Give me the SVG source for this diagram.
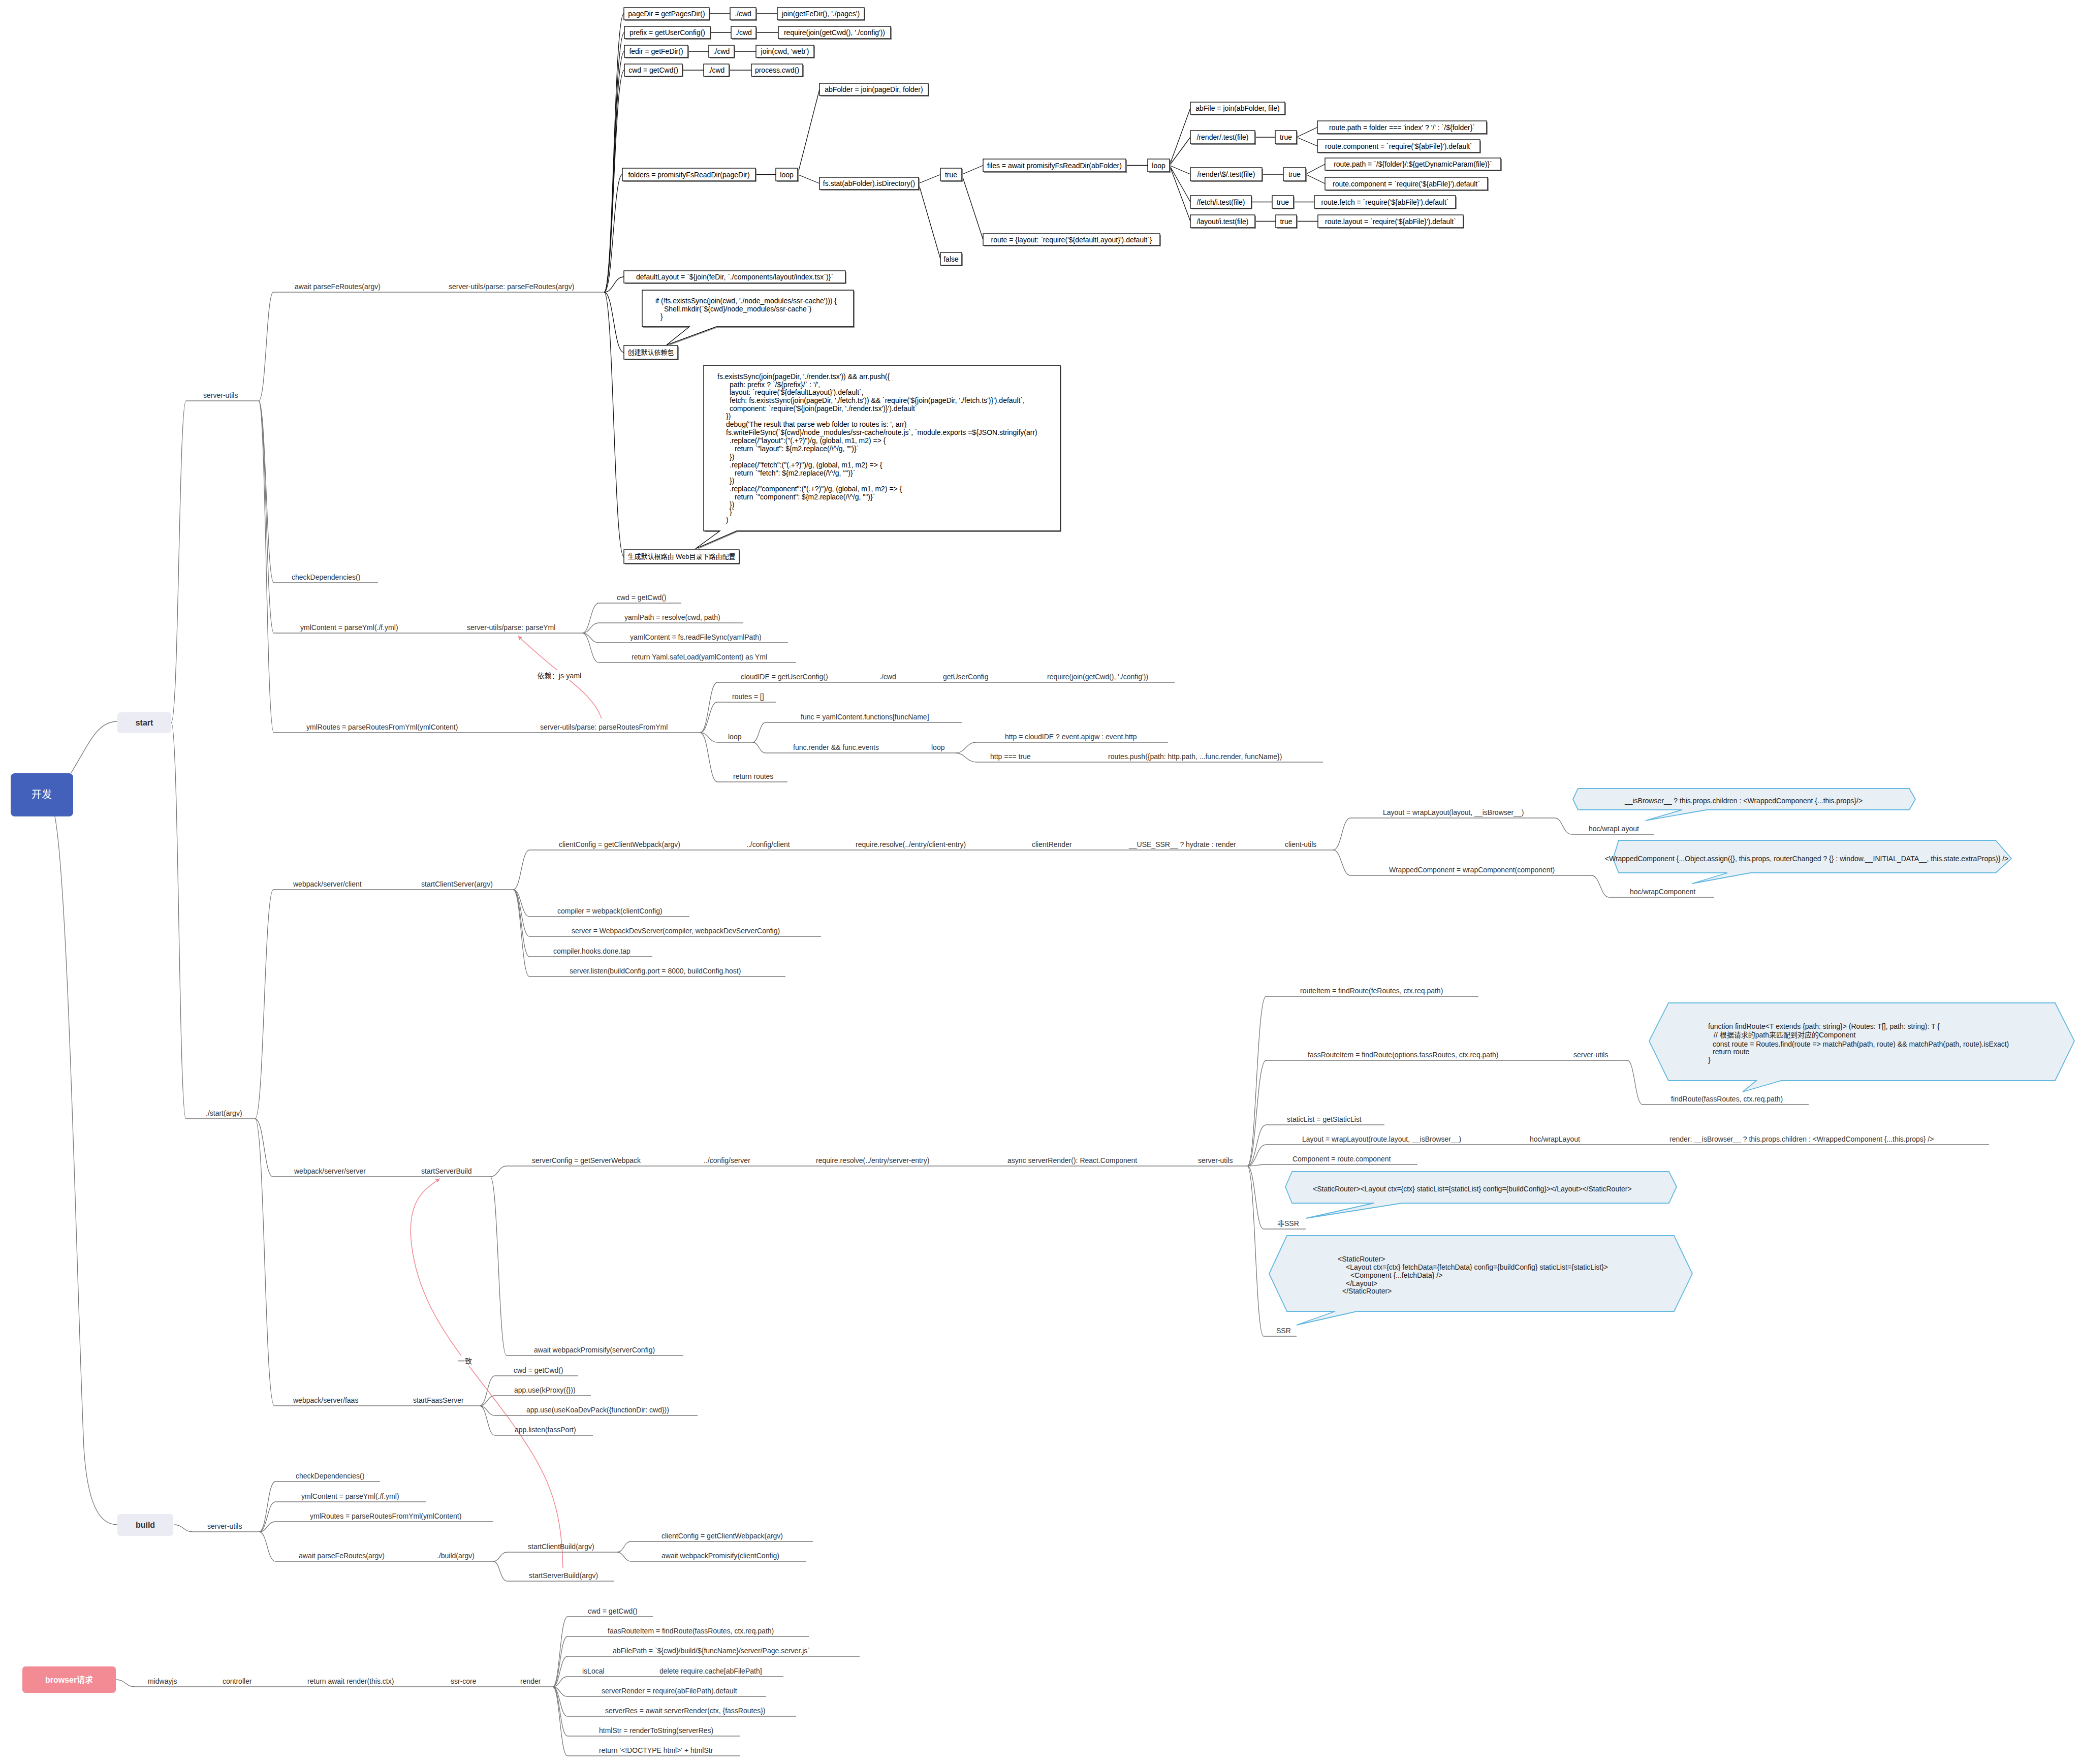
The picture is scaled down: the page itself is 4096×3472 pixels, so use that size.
<svg xmlns="http://www.w3.org/2000/svg" width="4096" height="3472" viewBox="0 0 4096 3472">
<defs>
<style>
.t{font-family:"Liberation Sans",Arial,"Noto Sans CJK SC",sans-serif;font-size:14px;fill:#333}
.bt{font-family:"Liberation Sans",Arial,"Noto Sans CJK SC",sans-serif;font-size:14px;fill:#000;text-anchor:middle}
.cjk{font-size:13px}
.u{stroke:#777;stroke-width:1.6;fill:none}
.c{stroke:#777;stroke-width:1.3;fill:none}
.cb{stroke:#111;stroke-width:1.3;fill:none}
.box{fill:#fff;stroke:#000;stroke-width:1.3}
.shd{fill:#8a8a8a}
.co{fill:#fff;stroke:#000;stroke-width:1.3}
.bl{fill:#E8EFF5;stroke:#62B8E0;stroke-width:1.8}
.red{stroke:#F2858F;stroke-width:1.5;fill:none}
.rl{font-family:"Liberation Sans",Arial,"Noto Sans CJK SC",sans-serif;font-size:14px;fill:#222}
</style>
<marker id="arr" viewBox="0 0 10 10" refX="9" refY="5" markerWidth="8" markerHeight="8" orient="auto" markerUnits="userSpaceOnUse">
<path d="M0,0 L10,5 L0,10 z" fill="#F2858F"/>
</marker>
</defs>
<rect x="0" y="0" width="4096" height="3472" fill="#fff"/>

<g id="connectors">
<!-- root -->
<path class="c" d="M140,1521 C175,1465 190,1420 231,1420"/>
<path class="c" d="M108,1607 C135,1750 150,2500 165,2850 C172,2960 195,3001 231,3001"/>
<path class="c" d="M337,1422 C352,1422 352,789 366,789"/>
<path class="c" d="M337,1422 C352,1422 352,2202 366,2202"/>
<!-- server-utils -->
<path class="c" d="M509,789 C524,789 524,575 538,575"/>
<path class="c" d="M509,789 C524,789 524,1147 539,1147"/>
<path class="c" d="M509,789 C524,789 524,1246 539,1246"/>
<path class="c" d="M509,789 C524,789 524,1442 539,1442"/>
<!-- parseFeRoutes trunk -->
<path class="cb" d="M1189,575 C1208,575 1208,27 1228,27"/>
<path class="cb" d="M1189,575 C1208,575 1208,64 1229,64"/>
<path class="cb" d="M1189,575 C1208,575 1208,101 1229,101"/>
<path class="cb" d="M1189,575 C1208,575 1208,138 1229,138"/>
<path class="cb" d="M1189,575 C1207,575 1207,343.5 1225,343.5"/>
<path class="cb" d="M1189,575 C1208,575 1208,545 1228,545"/>
<path class="cb" d="M1189,575 C1208,575 1208,693.5 1228,693.5"/>
<path class="cb" d="M1189,575 C1208,575 1208,1095.5 1228,1095.5"/>
<!-- box rows -->
<path class="cb" d="M1396,27 H1437 M1488,27 H1530 M1398,64 H1439 M1488,64 H1532 M1354,101 H1395 M1445,101 H1488 M1343,138 H1385 M1435,138 H1479"/>
<path class="cb" d="M1487,343.5 H1527 M1570,343.5 L1613,176 M1570,343.5 L1613,361 M1808,361 L1851,343.5 M1808,361 L1851,509.5 M1893,343.5 L1935,325.5 M1893,343.5 L1935,471.5 M2216,325.5 H2259"/>
<path class="cb" d="M2302,325.5 L2343,213 M2302,325.5 L2343,270 M2302,325.5 L2343,343 M2302,325.5 L2343,397.5 M2302,325.5 L2343,435.5"/>
<path class="cb" d="M2470,270 H2510 M2552,270 L2593,250.5 M2552,270 L2593,287.5 M2484,343 H2526 M2570,343 L2608,323 M2570,343 L2608,361.5 M2463,397.5 H2504 M2546,397.5 H2587 M2470,435.5 H2511 M2552,435.5 H2594"/>
<!-- parseYml -->
<path class="c" d="M1146,1246 C1162,1246 1162,1187 1179,1187"/>
<path class="c" d="M1146,1246 C1162,1246 1162,1226 1179,1226"/>
<path class="c" d="M1146,1246 C1162,1246 1162,1265 1179,1265"/>
<path class="c" d="M1146,1246 C1162,1246 1162,1304 1179,1304"/>
<!-- parseRoutesFromYml -->
<path class="c" d="M1378,1442 C1395,1442 1395,1343 1412,1343"/>
<path class="c" d="M1378,1442 C1395,1442 1395,1382 1412,1382"/>
<path class="c" d="M1378,1442 C1395,1442 1395,1461 1412,1461"/>
<path class="c" d="M1378,1442 C1395,1442 1395,1539 1412,1539"/>
<path class="c" d="M1481,1461 C1494,1461 1494,1422 1507,1422"/>
<path class="c" d="M1481,1461 C1494,1461 1494,1482 1507,1482"/>
<path class="c" d="M1880,1482 C1901,1482 1901,1461 1922,1461"/>
<path class="c" d="M1880,1482 C1901,1482 1901,1500 1922,1500"/>
<!-- ./start -->
<path class="c" d="M502,2202 C520,2202 520,1751 538,1751"/>
<path class="c" d="M502,2202 C520,2202 520,2316 537,2316"/>
<path class="c" d="M502,2202 C521,2202 521,2767 540,2767"/>
<!-- startClientServer -->
<path class="c" d="M1010,1751 C1026,1751 1026,1673 1042,1673"/>
<path class="c" d="M1010,1751 C1026,1751 1026,1804 1042,1804"/>
<path class="c" d="M1010,1751 C1026,1751 1026,1843 1042,1843"/>
<path class="c" d="M1010,1751 C1026,1751 1026,1883 1042,1883"/>
<path class="c" d="M1010,1751 C1026,1751 1026,1922 1042,1922"/>
<!-- client-utils -->
<path class="c" d="M2624,1673 C2641,1673 2641,1610 2658,1610"/>
<path class="c" d="M2624,1673 C2641,1673 2641,1723 2658,1723"/>
<path class="c" d="M3060,1610 C3076,1610 3076,1642 3093,1642"/>
<path class="c" d="M3132,1723 C3150,1723 3150,1766 3167,1766"/>
<!-- startServerBuild -->
<path class="c" d="M965,2316 C981,2316 981,2295 997,2295"/>
<path class="c" d="M965,2316 C981,2316 981,2668 997,2668"/>
<!-- server-utils (render) -->
<path class="c" d="M2455,2295 C2473,2295 2473,1961 2492,1961"/>
<path class="c" d="M2455,2295 C2473,2295 2473,2087 2492,2087"/>
<path class="c" d="M2455,2295 C2473,2295 2473,2214 2492,2214"/>
<path class="c" d="M2455,2295 C2473,2295 2473,2253 2492,2253"/>
<path class="c" d="M2455,2295 C2473,2295 2473,2292 2492,2292"/>
<path class="c" d="M2455,2295 C2471,2295 2471,2419 2487,2419"/>
<path class="c" d="M2455,2295 C2471,2295 2471,2630 2487,2630"/>
<path class="c" d="M3203,2087 C3218,2087 3218,2174 3233,2174"/>
<!-- startFaasServer -->
<path class="c" d="M944,2767 C959,2767 959,2708 974,2708"/>
<path class="c" d="M944,2767 C959,2767 959,2747 974,2747"/>
<path class="c" d="M944,2767 C959,2767 959,2786 974,2786"/>
<path class="c" d="M944,2767 C959,2767 959,2825 974,2825"/>
<!-- build -->
<path class="c" d="M342,3001 C361,3001 361,3015 380,3015"/>
<path class="c" d="M510,3015 C526,3015 526,2916 542,2916"/>
<path class="c" d="M510,3015 C526,3015 526,2956 542,2956"/>
<path class="c" d="M510,3015 C526,3015 526,2995 542,2995"/>
<path class="c" d="M510,3015 C526,3015 526,3073 542,3073"/>
<path class="c" d="M971,3073 C984,3073 984,3055 998,3055"/>
<path class="c" d="M971,3073 C984,3073 984,3112 998,3112"/>
<path class="c" d="M1215,3055 C1228,3055 1228,3034 1242,3034"/>
<path class="c" d="M1215,3055 C1228,3055 1228,3073 1242,3073"/>
<!-- browser -->
<path class="c" d="M228,3306 C247,3306 247,3320 266,3320"/>
<path class="c" d="M1088,3320 C1102,3320 1102,3182 1117,3182"/>
<path class="c" d="M1088,3320 C1102,3320 1102,3221 1117,3221"/>
<path class="c" d="M1088,3320 C1102,3320 1102,3260 1117,3260"/>
<path class="c" d="M1088,3320 C1102,3320 1102,3300 1117,3300"/>
<path class="c" d="M1088,3320 C1102,3320 1102,3339 1117,3339"/>
<path class="c" d="M1088,3320 C1102,3320 1102,3378 1117,3378"/>
<path class="c" d="M1088,3320 C1102,3320 1102,3417 1117,3417"/>
<path class="c" d="M1088,3320 C1102,3320 1102,3456 1117,3456"/>
<!-- relation arrows -->
<path class="red" d="M1184,1414 C1165,1360 1100,1330 1020,1252" marker-end="url(#arr)"/>
<path class="red" d="M1108,3086 C1105,2960 1080,2900 1000,2790 S840,2600 815,2480 S840,2340 865,2320" marker-end="url(#arr)"/>
</g>

<!-- root nodes -->
<g id="n-kaifa"><rect x="21" y="1522" width="123" height="85" rx="8" fill="#4361BB"/><text x="82" y="1571" text-anchor="middle" style="font-family:'Noto Sans CJK SC','Liberation Sans',sans-serif;font-size:20px;fill:#fff">开发</text></g>
<g id="n-start"><rect x="231" y="1402" width="106" height="41" rx="6" fill="#EBEBF3"/><text x="284" y="1428" text-anchor="middle" style="font-family:'Liberation Sans',Arial,sans-serif;font-size:16px;font-weight:bold;fill:#333">start</text></g>
<g id="n-build"><rect x="231" y="2980" width="110" height="43" rx="6" fill="#EBEBF3"/><text x="286" y="3007" text-anchor="middle" style="font-family:'Liberation Sans',Arial,sans-serif;font-size:16px;font-weight:bold;fill:#333">build</text></g>
<g id="n-browser"><rect x="44" y="3280" width="184" height="52" rx="6" fill="#F28B94"/><text x="136" y="3312" text-anchor="middle" style="font-family:'Liberation Sans',Arial,'Noto Sans CJK SC',sans-serif;font-size:16px;font-weight:bold;fill:#fff">browser请求</text></g>

<!-- start > server-utils -->
<g id="n-su"><path class="u" d="M366,789 H509"/><text class="t" x="400" y="783">server-utils</text></g>
<g id="n-pfr"><path class="u" d="M538,575 H1189"/><text class="t" x="580" y="569">await parseFeRoutes(argv)</text><text class="t" x="883" y="569">server-utils/parse: parseFeRoutes(argv)</text></g>

<!-- boxed tree -->
<g id="n-b1"><rect class="shd" x="1230" y="17" width="168" height="24"/><rect class="box" x="1228" y="15" width="168" height="24"/><text class="bt" x="1312" y="32">pageDir = getPagesDir()</text></g>
<g id="n-b2"><rect class="shd" x="1439" y="17" width="51" height="24"/><rect class="box" x="1437" y="15" width="51" height="24"/><text class="bt" x="1462.5" y="32">./cwd</text></g>
<g id="n-b3"><rect class="shd" x="1532" y="17" width="171" height="24"/><rect class="box" x="1530" y="15" width="171" height="24"/><text class="bt" x="1615.5" y="32">join(getFeDir(), './pages')</text></g>
<g id="n-b4"><rect class="shd" x="1231" y="54" width="169" height="24"/><rect class="box" x="1229" y="52" width="169" height="24"/><text class="bt" x="1313.5" y="69">prefix = getUserConfig()</text></g>
<g id="n-b5"><rect class="shd" x="1441" y="54" width="49" height="24"/><rect class="box" x="1439" y="52" width="49" height="24"/><text class="bt" x="1463.5" y="69">./cwd</text></g>
<g id="n-b6"><rect class="shd" x="1534" y="54" width="221" height="24"/><rect class="box" x="1532" y="52" width="221" height="24"/><text class="bt" x="1642.5" y="69">require(join(getCwd(), './config'))</text></g>
<g id="n-b7"><rect class="shd" x="1231" y="91" width="125" height="24"/><rect class="box" x="1229" y="89" width="125" height="24"/><text class="bt" x="1291.5" y="106">fedir = getFeDir()</text></g>
<g id="n-b8"><rect class="shd" x="1397" y="91" width="50" height="24"/><rect class="box" x="1395" y="89" width="50" height="24"/><text class="bt" x="1420" y="106">./cwd</text></g>
<g id="n-b9"><rect class="shd" x="1490" y="91" width="114" height="24"/><rect class="box" x="1488" y="89" width="114" height="24"/><text class="bt" x="1545" y="106">join(cwd, 'web')</text></g>
<g id="n-b10"><rect class="shd" x="1231" y="128" width="114" height="24"/><rect class="box" x="1229" y="126" width="114" height="24"/><text class="bt" x="1286" y="143">cwd = getCwd()</text></g>
<g id="n-b11"><rect class="shd" x="1387" y="128" width="50" height="24"/><rect class="box" x="1385" y="126" width="50" height="24"/><text class="bt" x="1410" y="143">./cwd</text></g>
<g id="n-b12"><rect class="shd" x="1481" y="128" width="101" height="24"/><rect class="box" x="1479" y="126" width="101" height="24"/><text class="bt" x="1529.5" y="143">process.cwd()</text></g>
<g id="n-b13"><rect class="shd" x="1227" y="333" width="262" height="25"/><rect class="box" x="1225" y="331" width="262" height="25"/><text class="bt" x="1356" y="348.5">folders = promisifyFsReadDir(pageDir)</text></g>
<g id="n-b14"><rect class="shd" x="1529" y="333" width="43" height="25"/><rect class="box" x="1527" y="331" width="43" height="25"/><text class="bt" x="1548.5" y="348.5">loop</text></g>
<g id="n-b15"><rect class="shd" x="1615" y="166" width="214" height="24"/><rect class="box" x="1613" y="164" width="214" height="24"/><text class="bt" x="1720" y="181">abFolder = join(pageDir, folder)</text></g>
<g id="n-b16"><rect class="shd" x="1615" y="351" width="195" height="24"/><rect class="box" x="1613" y="349" width="195" height="24"/><text class="bt" x="1710.5" y="366">fs.stat(abFolder).isDirectory()</text></g>
<g id="n-b17"><rect class="shd" x="1853" y="333" width="42" height="25"/><rect class="box" x="1851" y="331" width="42" height="25"/><text class="bt" x="1872" y="348.5">true</text></g>
<g id="n-b18"><rect class="shd" x="1853" y="499" width="42" height="25"/><rect class="box" x="1851" y="497" width="42" height="25"/><text class="bt" x="1872" y="514.5">false</text></g>
<g id="n-b19"><rect class="shd" x="1937" y="315" width="281" height="25"/><rect class="box" x="1935" y="313" width="281" height="25"/><text class="bt" x="2075.5" y="330.5">files = await promisifyFsReadDir(abFolder)</text></g>
<g id="n-b20"><rect class="shd" x="1937" y="462" width="348" height="23"/><rect class="box" x="1935" y="460" width="348" height="23"/><text class="bt" x="2109" y="476.5">route = {layout: `require('${defaultLayout}').default`}</text></g>
<g id="n-b21"><rect class="shd" x="2261" y="315" width="43" height="25"/><rect class="box" x="2259" y="313" width="43" height="25"/><text class="bt" x="2280.5" y="330.5">loop</text></g>
<g id="n-b22"><rect class="shd" x="2345" y="203" width="186" height="24"/><rect class="box" x="2343" y="201" width="186" height="24"/><text class="bt" x="2436" y="218">abFile = join(abFolder, file)</text></g>
<g id="n-b23"><rect class="shd" x="2345" y="259" width="127" height="26"/><rect class="box" x="2343" y="257" width="127" height="26"/><text class="bt" x="2406.5" y="275">/render/.test(file)</text></g>
<g id="n-b24"><rect class="shd" x="2512" y="259" width="42" height="26"/><rect class="box" x="2510" y="257" width="42" height="26"/><text class="bt" x="2531" y="275">true</text></g>
<g id="n-b25"><rect class="shd" x="2595" y="240" width="333" height="25"/><rect class="box" x="2593" y="238" width="333" height="25"/><text class="bt" x="2759.5" y="255.5">route.path = folder === 'index' ? '/' : `/${folder}`</text></g>
<g id="n-b26"><rect class="shd" x="2595" y="277" width="320" height="25"/><rect class="box" x="2593" y="275" width="320" height="25"/><text class="bt" x="2753" y="292.5">route.component = `require('${abFile}').default`</text></g>
<g id="n-b27"><rect class="shd" x="2345" y="332" width="141" height="26"/><rect class="box" x="2343" y="330" width="141" height="26"/><text class="bt" x="2413.5" y="348">/render\$/.test(file)</text></g>
<g id="n-b28"><rect class="shd" x="2528" y="332" width="44" height="26"/><rect class="box" x="2526" y="330" width="44" height="26"/><text class="bt" x="2548" y="348">true</text></g>
<g id="n-b29"><rect class="shd" x="2610" y="313" width="346" height="24"/><rect class="box" x="2608" y="311" width="346" height="24"/><text class="bt" x="2781" y="328">route.path = `/${folder}/:${getDynamicParam(file)}`</text></g>
<g id="n-b30"><rect class="shd" x="2610" y="351" width="320" height="25"/><rect class="box" x="2608" y="349" width="320" height="25"/><text class="bt" x="2768" y="366.5">route.component = `require('${abFile}').default`</text></g>
<g id="n-b31"><rect class="shd" x="2345" y="387" width="120" height="25"/><rect class="box" x="2343" y="385" width="120" height="25"/><text class="bt" x="2403" y="402.5">/fetch/i.test(file)</text></g>
<g id="n-b32"><rect class="shd" x="2506" y="387" width="42" height="25"/><rect class="box" x="2504" y="385" width="42" height="25"/><text class="bt" x="2525" y="402.5">true</text></g>
<g id="n-b33"><rect class="shd" x="2589" y="387" width="278" height="25"/><rect class="box" x="2587" y="385" width="278" height="25"/><text class="bt" x="2726" y="402.5">route.fetch = `require('${abFile}').default`</text></g>
<g id="n-b34"><rect class="shd" x="2345" y="425" width="127" height="25"/><rect class="box" x="2343" y="423" width="127" height="25"/><text class="bt" x="2406.5" y="440.5">/layout/i.test(file)</text></g>
<g id="n-b35"><rect class="shd" x="2513" y="425" width="41" height="25"/><rect class="box" x="2511" y="423" width="41" height="25"/><text class="bt" x="2531.5" y="440.5">true</text></g>
<g id="n-b36"><rect class="shd" x="2596" y="425" width="286" height="25"/><rect class="box" x="2594" y="423" width="286" height="25"/><text class="bt" x="2737" y="440.5">route.layout = `require('${abFile}').default`</text></g>
<g id="n-b37"><rect class="shd" x="1230" y="535" width="436" height="24"/><rect class="box" x="1228" y="533" width="436" height="24"/><text class="bt" x="1446" y="550">defaultLayout = `${join(feDir, `./components/layout/index.tsx`)}`</text></g>
<g id="n-b38"><rect class="shd" x="1230" y="682" width="106" height="27"/><rect class="box" x="1228" y="680" width="106" height="27"/><text class="bt cjk" x="1281" y="698">创建默认依赖包</text></g>
<g id="n-b39"><rect class="shd" x="1230" y="1084" width="227" height="27"/><rect class="box" x="1228" y="1082" width="227" height="27"/><text class="bt cjk" x="1341.5" y="1100">生成默认根路由 Web目录下路由配置</text></g>

<!-- callouts (black) -->
<g id="n-co1">
<polygon class="shd" points="1266,573 1682,573 1682,645 1412,645 1314,681 1359,645 1266,645"/>
<polygon class="co" points="1264,571 1680,571 1680,643 1410,643 1312,679 1357,643 1264,643"/>
<text class="bt" style="text-anchor:start" x="1290" y="597">if (!fs.existsSync(join(cwd, './node_modules/ssr-cache'))) {</text>
<text class="bt" style="text-anchor:start" x="1307" y="613">Shell.mkdir(`${cwd}/node_modules/ssr-cache`)</text>
<text class="bt" style="text-anchor:start" x="1300" y="628">}</text>
</g>
<g id="n-co2">
<polygon class="shd" points="1387,721 2089,721 2089,1047 1452,1047 1371,1082 1419,1047 1387,1047"/>
<polygon class="co" points="1385,719 2087,719 2087,1045 1450,1045 1369,1080 1417,1045 1385,1045"/>
<g class="bt" style="text-anchor:start">
<text x="1412" y="746">fs.existsSync(join(pageDir, './render.tsx')) &amp;&amp; arr.push({</text>
<text x="1436" y="762">path: prefix ? `/${prefix}/` : '/',</text>
<text x="1436" y="777">layout: `require('${defaultLayout}').default`,</text>
<text x="1436" y="793">fetch: fs.existsSync(join(pageDir, './fetch.ts')) &amp;&amp; `require('${join(pageDir, './fetch.ts')}').default`,</text>
<text x="1436" y="809">component: `require('${join(pageDir, './render.tsx')}').default`</text>
<text x="1429" y="824">})</text>
<text x="1429" y="840">debug('The result that parse web folder to routes is: ', arr)</text>
<text x="1429" y="856">fs.writeFileSync(`${cwd}/node_modules/ssr-cache/route.js`, `module.exports =${JSON.stringify(arr)</text>
<text x="1436" y="872">.replace(/"layout":("(.+?)")/g, (global, m1, m2) =&gt; {</text>
<text x="1446" y="888">return `"layout": ${m2.replace(/\^/g, "")}`</text>
<text x="1436" y="904">})</text>
<text x="1436" y="920">.replace(/"fetch":("(.+?)")/g, (global, m1, m2) =&gt; {</text>
<text x="1446" y="936">return `"fetch": ${m2.replace(/\^/g, "")}`</text>
<text x="1436" y="951">})</text>
<text x="1436" y="967">.replace(/"component":("(.+?)")/g, (global, m1, m2) =&gt; {</text>
<text x="1446" y="983">return `"component": ${m2.replace(/\^/g, "")}`</text>
<text x="1436" y="998">})</text>
<text x="1436" y="1013">}`</text>
<text x="1429" y="1028">)</text>
</g>
</g>

<!-- server-utils children -->
<g id="n-chk"><path class="u" d="M539,1147 H744"/><text class="t" x="574" y="1141">checkDependencies()</text></g>
<g id="n-yml"><path class="u" d="M539,1246 H1146"/><text class="t" x="591" y="1240">ymlContent = parseYml(./f.yml)</text><text class="t" x="919" y="1240">server-utils/parse: parseYml</text></g>
<g id="n-y1"><path class="u" d="M1179,1187 H1341"/><text class="t" x="1214" y="1181">cwd = getCwd()</text></g>
<g id="n-y2"><path class="u" d="M1179,1226 H1463"/><text class="t" x="1229" y="1220">yamlPath = resolve(cwd, path)</text></g>
<g id="n-y3"><path class="u" d="M1179,1265 H1551"/><text class="t" x="1240" y="1259">yamlContent = fs.readFileSync(yamlPath)</text></g>
<g id="n-y4"><path class="u" d="M1179,1304 H1567"/><text class="t" x="1243" y="1298">return Yaml.safeLoad(yamlContent) as Yml</text></g>
<g id="n-yr"><path class="u" d="M539,1442 H1378"/><text class="t" x="603" y="1436">ymlRoutes = parseRoutesFromYml(ymlContent)</text><text class="t" x="1063" y="1436">server-utils/parse: parseRoutesFromYml</text></g>
<g id="n-r1"><path class="u" d="M1412,1343 H2312"/><text class="t" x="1458" y="1337">cloudIDE = getUserConfig()</text><text class="t" x="1731" y="1337">./cwd</text><text class="t" x="1856" y="1337">getUserConfig</text><text class="t" x="2061" y="1337">require(join(getCwd(), './config'))</text></g>
<g id="n-r2"><path class="u" d="M1412,1382 H1528"/><text class="t" x="1441" y="1376">routes = []</text></g>
<g id="n-r3"><path class="u" d="M1412,1461 H1481"/><text class="t" x="1433" y="1455">loop</text></g>
<g id="n-r4"><path class="u" d="M1507,1422 H1893"/><text class="t" x="1576" y="1416">func = yamlContent.functions[funcName]</text></g>
<g id="n-r5"><path class="u" d="M1507,1482 H1880"/><text class="t" x="1561" y="1476">func.render &amp;&amp; func.events</text><text class="t" x="1833" y="1476">loop</text></g>
<g id="n-r6"><path class="u" d="M1922,1461 H2299"/><text class="t" x="1978" y="1455">http = cloudIDE ? event.apigw : event.http</text></g>
<g id="n-r7"><path class="u" d="M1922,1500 H2604"/><text class="t" x="1949" y="1494">http === true</text><text class="t" x="2181" y="1494">routes.push({path: http.path, ...func.render, funcName})</text></g>
<g id="n-r8"><path class="u" d="M1412,1539 H1550"/><text class="t" x="1443" y="1533">return routes</text></g>
<g id="n-dep"><rect x="1054" y="1319" width="94" height="20" fill="#fff"/><text class="rl" x="1101" y="1335" text-anchor="middle">依赖：js-yaml</text></g>

<!-- ./start(argv) -->
<g id="n-st"><path class="u" d="M366,2202 H502"/><text class="t" x="405" y="2196">./start(argv)</text></g>
<g id="n-wc"><path class="u" d="M538,1751 H1010"/><text class="t" x="577" y="1745">webpack/server/client</text><text class="t" x="829" y="1745">startClientServer(argv)</text></g>
<g id="n-c1"><path class="u" d="M1042,1673 H2624"/><text class="t" x="1100" y="1667">clientConfig = getClientWebpack(argv)</text><text class="t" x="1469" y="1667">../config/client</text><text class="t" x="1684" y="1667">require.resolve(../entry/client-entry)</text><text class="t" x="2031" y="1667">clientRender</text><text class="t" x="2222" y="1667">__USE_SSR__ ? hydrate : render</text><text class="t" x="2529" y="1667">client-utils</text></g>
<g id="n-c2"><path class="u" d="M1042,1804 H1357"/><text class="t" x="1097" y="1798">compiler = webpack(clientConfig)</text></g>
<g id="n-c3"><path class="u" d="M1042,1843 H1616"/><text class="t" x="1125" y="1837">server = WebpackDevServer(compiler, webpackDevServerConfig)</text></g>
<g id="n-c4"><path class="u" d="M1042,1883 H1284"/><text class="t" x="1089" y="1877">compiler.hooks.done.tap</text></g>
<g id="n-c5"><path class="u" d="M1042,1922 H1546"/><text class="t" x="1121" y="1916">server.listen(buildConfig.port = 8000, buildConfig.host)</text></g>
<g id="n-cu1"><path class="u" d="M2658,1610 H3060"/><text class="t" x="2722" y="1604">Layout = wrapLayout(layout, __isBrowser__)</text></g>
<g id="n-cu2"><path class="u" d="M3093,1642 H3256"/><text class="t" x="3127" y="1636">hoc/wrapLayout</text></g>
<g id="n-cu3"><path class="u" d="M2658,1723 H3132"/><text class="t" x="2734" y="1717">WrappedComponent = wrapComponent(component)</text></g>
<g id="n-cu4"><path class="u" d="M3167,1766 H3374"/><text class="t" x="3208" y="1760">hoc/wrapComponent</text></g>
<g id="n-bc1"><polygon class="bl" points="3096,1573 3106,1552 3758,1552 3770,1573 3758,1594 3359,1594 3239,1615 3311,1594 3106,1594"/><text class="bt" style="fill:#222" x="3432" y="1581">__isBrowser__ ? this.props.children : &lt;WrappedComponent {...this.props}/&gt;</text></g>
<g id="n-bc2"><polygon class="bl" points="3175,1690 3186,1654 3928,1654 3959,1690 3928,1718 3445,1718 3331,1739 3400,1718 3186,1718"/><text class="bt" style="fill:#222" x="3556" y="1695">&lt;WrappedComponent {...Object.assign({}, this.props, routerChanged ? {} : window.__INITIAL_DATA__, this.state.extraProps)} /&gt;</text></g>

<g id="n-ws"><path class="u" d="M537,2316 H965"/><text class="t" x="579" y="2310">webpack/server/server</text><text class="t" x="829" y="2310">startServerBuild</text></g>
<g id="n-s1"><path class="u" d="M997,2295 H2455"/><text class="t" x="1047" y="2289">serverConfig = getServerWebpack</text><text class="t" x="1385" y="2289">../config/server</text><text class="t" x="1606" y="2289">require.resolve(../entry/server-entry)</text><text class="t" x="1983" y="2289">async serverRender(): React.Component</text><text class="t" x="2358" y="2289">server-utils</text></g>
<g id="n-s2"><path class="u" d="M997,2668 H1345"/><text class="t" x="1051" y="2662">await webpackPromisify(serverConfig)</text></g>
<g id="n-sv1"><path class="u" d="M2492,1961 H2910"/><text class="t" x="2559" y="1955">routeItem = findRoute(feRoutes, ctx.req.path)</text></g>
<g id="n-sv2"><path class="u" d="M2492,2087 H3203"/><text class="t" x="2574" y="2081">fassRouteItem = findRoute(options.fassRoutes, ctx.req.path)</text><text class="t" x="3097" y="2081">server-utils</text></g>
<g id="n-sv3"><path class="u" d="M3233,2174 H3560"/><text class="t" x="3289" y="2168">findRoute(fassRoutes, ctx.req.path)</text></g>
<g id="n-bc3"><polygon class="bl" points="3246,2049 3284,1974 4045,1974 4083,2049 4045,2127 3506,2127 3430,2149 3457,2127 3284,2127"/>
<g class="bt" style="text-anchor:start;fill:#222">
<text x="3362" y="2025">function findRoute&lt;T extends {path: string}&gt; (Routes: T[], path: string): T {</text>
<text x="3373" y="2042">// 根据请求的path来匹配到对应的Component</text>
<text x="3371" y="2060">const route = Routes.find(route =&gt; matchPath(path, route) &amp;&amp; matchPath(path, route).isExact)</text>
<text x="3371" y="2075">return route</text>
<text x="3362" y="2091">}</text>
</g></g>
<g id="n-sv4"><path class="u" d="M2492,2214 H2725"/><text class="t" x="2533" y="2208">staticList = getStaticList</text></g>
<g id="n-sv5"><path class="u" d="M2492,2253 H3915"/><text class="t" x="2563" y="2247">Layout = wrapLayout(route.layout, __isBrowser__)</text><text class="t" x="3011" y="2247">hoc/wrapLayout</text><text class="t" x="3286" y="2247">render: __isBrowser__ ? this.props.children : &lt;WrappedComponent {...this.props} /&gt;</text></g>
<g id="n-sv6"><path class="u" d="M2492,2292 H2790"/><text class="t" x="2544" y="2286">Component = route.component</text></g>
<g id="n-bc4"><polygon class="bl" points="2530,2336 2543,2306 3285,2306 3300,2336 3285,2368 2760,2368 2570,2398 2704,2368 2543,2368"/><text class="bt" style="text-anchor:start;fill:#222" x="2584" y="2345">&lt;StaticRouter&gt;&lt;Layout ctx={ctx} staticList={staticList} config={buildConfig}&gt;&lt;/Layout&gt;&lt;/StaticRouter&gt;</text></g>
<g id="n-sv7"><path class="u" d="M2487,2419 H2570"/><text class="t" x="2514" y="2413">非SSR</text></g>
<g id="n-bc5"><polygon class="bl" points="2498,2507 2533,2432 3295,2432 3331,2507 3295,2581 2671,2581 2552,2608 2628,2581 2533,2581"/>
<g class="bt" style="text-anchor:start;fill:#222">
<text x="2633" y="2483">&lt;StaticRouter&gt;</text>
<text x="2649" y="2499">&lt;Layout ctx={ctx} fetchData={fetchData} config={buildConfig} staticList={staticList}&gt;</text>
<text x="2658" y="2515">&lt;Component {...fetchData} /&gt;</text>
<text x="2649" y="2531">&lt;/Layout&gt;</text>
<text x="2642" y="2546">&lt;/StaticRouter&gt;</text>
</g></g>
<g id="n-sv8"><path class="u" d="M2487,2630 H2552"/><text class="t" x="2512" y="2624">SSR</text></g>

<g id="n-wf"><path class="u" d="M540,2767 H944"/><text class="t" x="577" y="2761">webpack/server/faas</text><text class="t" x="813" y="2761">startFaasServer</text></g>
<g id="n-f1"><path class="u" d="M974,2708 H1138"/><text class="t" x="1011" y="2702">cwd = getCwd()</text></g>
<g id="n-f2"><path class="u" d="M974,2747 H1163"/><text class="t" x="1012" y="2741">app.use(kProxy({}))</text></g>
<g id="n-f3"><path class="u" d="M974,2786 H1373"/><text class="t" x="1036" y="2780">app.use(useKoaDevPack({functionDir: cwd}))</text></g>
<g id="n-f4"><path class="u" d="M974,2825 H1167"/><text class="t" x="1013" y="2819">app.listen(fassPort)</text></g>
<g id="n-yz"><rect x="898" y="2668" width="34" height="20" fill="#fff"/><text class="rl" x="915" y="2684" text-anchor="middle">一致</text></g>

<!-- build -->
<g id="n-bsu"><path class="u" d="M380,3015 H510"/><text class="t" x="408" y="3009">server-utils</text></g>
<g id="n-bb1"><path class="u" d="M542,2916 H748"/><text class="t" x="582" y="2910">checkDependencies()</text></g>
<g id="n-bb2"><path class="u" d="M542,2956 H838"/><text class="t" x="593" y="2950">ymlContent = parseYml(./f.yml)</text></g>
<g id="n-bb3"><path class="u" d="M542,2995 H971"/><text class="t" x="610" y="2989">ymlRoutes = parseRoutesFromYml(ymlContent)</text></g>
<g id="n-bb4"><path class="u" d="M542,3073 H971"/><text class="t" x="588" y="3067">await parseFeRoutes(argv)</text><text class="t" x="860" y="3067">./build(argv)</text></g>
<g id="n-bb5"><path class="u" d="M998,3055 H1215"/><text class="t" x="1039" y="3049">startClientBuild(argv)</text></g>
<g id="n-bb6"><path class="u" d="M1242,3034 H1600"/><text class="t" x="1302" y="3028">clientConfig = getClientWebpack(argv)</text></g>
<g id="n-bb7"><path class="u" d="M1242,3073 H1587"/><text class="t" x="1302" y="3067">await webpackPromisify(clientConfig)</text></g>
<g id="n-bb8"><path class="u" d="M998,3112 H1209"/><text class="t" x="1041" y="3106">startServerBuild(argv)</text></g>

<!-- browser -->
<g id="n-w0"><path class="u" d="M266,3320 H1088"/><text class="t" x="291" y="3314">midwayjs</text><text class="t" x="438" y="3314">controller</text><text class="t" x="605" y="3314">return await render(this.ctx)</text><text class="t" x="887" y="3314">ssr-core</text><text class="t" x="1024" y="3314">render</text></g>
<g id="n-w1"><path class="u" d="M1117,3182 H1285"/><text class="t" x="1157" y="3176">cwd = getCwd()</text></g>
<g id="n-w2"><path class="u" d="M1117,3221 H1592"/><text class="t" x="1196" y="3215">faasRouteItem = findRoute(fassRoutes, ctx.req.path)</text></g>
<g id="n-w3"><path class="u" d="M1117,3260 H1692"/><text class="t" x="1206" y="3254">abFilePath = `${cwd}/build/${funcName}/server/Page.server.js`</text></g>
<g id="n-w4"><path class="u" d="M1117,3300 H1542"/><text class="t" x="1146" y="3294">isLocal</text><text class="t" x="1298" y="3294">delete require.cache[abFilePath]</text></g>
<g id="n-w5"><path class="u" d="M1117,3339 H1508"/><text class="t" x="1184" y="3333">serverRender = require(abFilePath).default</text></g>
<g id="n-w6"><path class="u" d="M1117,3378 H1567"/><text class="t" x="1191" y="3372">serverRes = await serverRender(ctx, {fassRoutes})</text></g>
<g id="n-w7"><path class="u" d="M1117,3417 H1457"/><text class="t" x="1179" y="3411">htmlStr = renderToString(serverRes)</text></g>
<g id="n-w8"><path class="u" d="M1117,3456 H1457"/><text class="t" x="1179" y="3450">return '&lt;!DOCTYPE html&gt;' + htmlStr</text></g>
</svg>
